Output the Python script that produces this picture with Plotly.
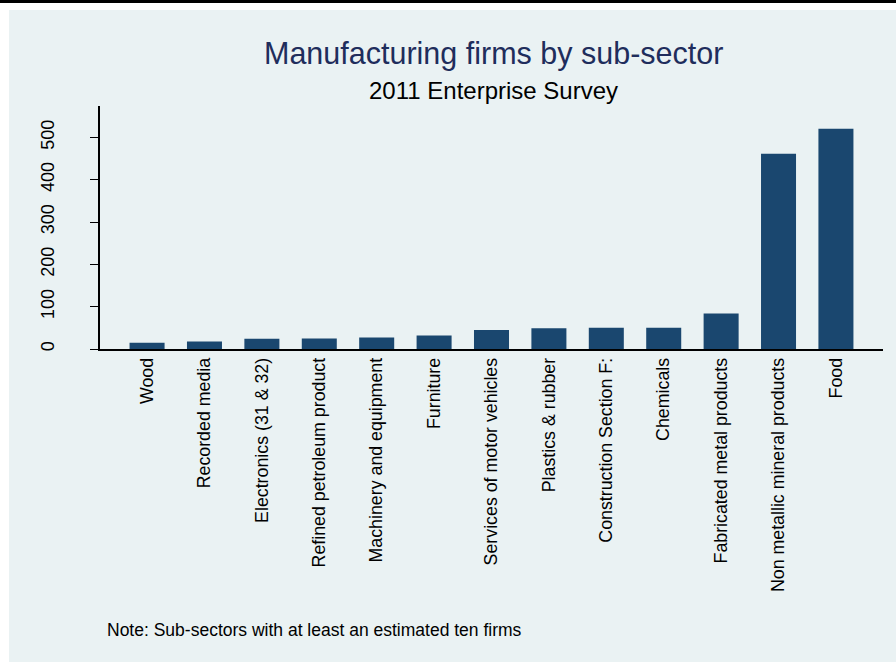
import plotly.graph_objects as go

categories = ["Wood", "Recorded media", "Electronics (31 & 32)", "Refined petroleum product",
              "Machinery and equipment", "Furniture", "Services of motor vehicles",
              "Plastics & rubber", "Construction Section F:", "Chemicals",
              "Fabricated metal products", "Non metallic mineral products", "Food"]
firms = [15, 18, 24, 25, 27, 32, 45, 49, 50, 50, 84, 461, 520]
y_ticks = [0, 100, 200, 300, 400, 500]

W, H = 896, 662
L, R, T, B = 100, 13, 106, 313
pw, ph = W - L - R, H - T - B

def px(x):
    return (x - L) / pw

def py(y):
    return (H - B - y) / ph

BG = "#EAF2F3"
FONT = "Liberation Sans, Arial, sans-serif"

fig = go.Figure(go.Bar(x=categories, y=firms, marker=dict(color="#1a476f", line=dict(width=0))))

fig.update_layout(
    width=W, height=H,
    margin=dict(l=L, r=R, t=T, b=B, autoexpand=False),
    paper_bgcolor="white",
    plot_bgcolor="white",
    bargap=0.39,
    showlegend=False,
    font=dict(family=FONT, color="black", size=18),
    xaxis=dict(
        type="category", range=[-0.82, 12.82], tickangle=-90, showgrid=False,
        showline=True, linecolor="black", linewidth=1.5, ticks="",
        tickfont=dict(size=17.8, family=FONT, color="black"), ticklabelstandoff=0,
    ),
    yaxis=dict(
        range=[0, 574], tickvals=y_ticks, ticktext=[str(v) for v in y_ticks],
        tickangle=-90, showgrid=True, gridcolor=BG, gridwidth=1.5, zeroline=False,
        showline=True, linecolor="black", linewidth=1.5, ticks="outside", ticklen=8,
        tickcolor="black", tickwidth=1, ticklabelstandoff=29,
        tickfont=dict(size=18, family=FONT, color="black"),
    ),
    shapes=[
        dict(type="rect", xref="paper", yref="paper", x0=px(9), x1=px(W + 5), y0=py(H + 5), y1=py(10),
             fillcolor=BG, line=dict(width=0), layer="below"),
        dict(type="line", xref="paper", yref="paper", x0=px(-5), x1=px(W + 5), y0=py(1.5), y1=py(1.5),
             line=dict(color="black", width=3)),
    ],
    annotations=[
        dict(text="Manufacturing firms by sub-sector", xref="paper", yref="paper", x=px(494), y=py(53),
             xanchor="center", yanchor="middle", showarrow=False,
             font=dict(size=30.5, color="#1f2d5c", family=FONT)),
        dict(text="2011 Enterprise Survey", xref="paper", yref="paper", x=px(494), y=py(90),
             xanchor="center", yanchor="middle", showarrow=False,
             font=dict(size=24, color="black", family=FONT)),
        dict(text="Note: Sub-sectors with at least an estimated ten firms", xref="paper", yref="paper",
             x=px(105), y=py(630), xanchor="left", yanchor="middle", showarrow=False,
             font=dict(size=17.5, color="black", family=FONT)),
    ],
)

fig.write_html("out.html", config={"displayModeBar": False},
               post_script="document.body.style.margin='0';document.body.style.padding='0';")
